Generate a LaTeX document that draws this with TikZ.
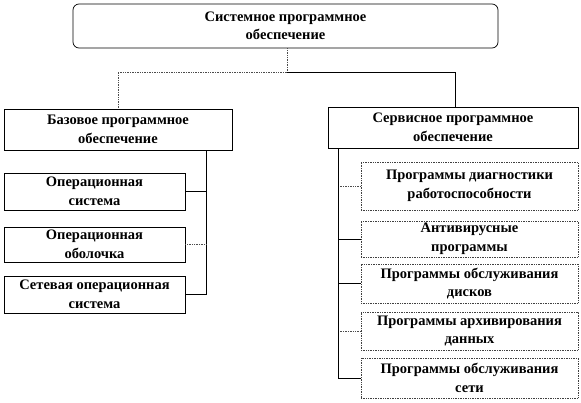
\documentclass[tikz,border=0pt]{standalone}
\usepackage{fontspec}
\setmainfont{Liberation Serif}
\usetikzlibrary{calc}
\begin{document}
\begin{tikzpicture}[x=1pt,y=-1pt,
  box/.style={draw=black, line width=0.7pt, fill=white, align=center, inner sep=1pt,
    font=\fontsize{14.5}{18.5}\selectfont\bfseries},
  dbox/.style={box, draw=black!75, densely dotted},
  link/.style={draw=black, line width=0.7pt},
  dlink/.style={draw=black!70, line width=0.7pt, densely dotted}]
\useasboundingbox (0,0) rectangle (581,402);
% top
\node[box, rounded corners=6pt, minimum width=425pt, minimum height=44pt] (top) at (285.5,26) {Системное программное\\обеспечение};
% level 2
\node[box, minimum width=228pt, minimum height=41pt] (base) at (118,129.5) {Базовое программное\\обеспечение};
\node[box, minimum width=250pt, minimum height=41pt] (serv) at (453,127.5) {Сервисное программное\\обеспечение};
% left children
\node[box, minimum width=181pt, minimum height=37pt] (c1) at (94.5,191.5) {Операционная\\система};
\node[box, minimum width=181pt, minimum height=35pt] (c2) at (94.5,244.5) {Операционная\\оболочка};
\node[box, minimum width=181pt, minimum height=37pt] (c3) at (94.5,294.5) {Сетевая операционная\\система};
% right children
\node[dbox, minimum width=217pt, minimum height=48pt] (d1) at (469.5,186) {Программы диагностики\\работоспособности};
\node[dbox, minimum width=217pt, minimum height=36pt] (d2) at (469.5,239) {Антивирусные\\программы};
\node[dbox, minimum width=217pt, minimum height=39pt] (d3) at (469.5,283.5) {Программы обслуживания\\дисков};
\node[dbox, minimum width=217pt, minimum height=38pt] (d4) at (469.5,331) {Программы архивирования\\данных};
\node[dbox, minimum width=217pt, minimum height=40pt] (d5) at (469.5,378) {Программы обслуживания\\сети};
% top connectors
\coordinate (hub) at ($(top.south)+(1.5,24)$);
\draw[dlink] ($(top.south)+(1.5,0)$) -- (hub);
\draw[dlink] (hub) -| (base.north);
\draw[link] (hub) -| ($(serv.north)+(2,0)$);
% left trunk
\coordinate (lt) at ($(base.south west)+(203,0)$);
\draw[link] (lt) |- (c3.east);
\draw[link] (c1.east) -- (c1.east -| lt);
\draw[dlink] (c2.east) -- (c2.east -| lt);
% right trunk
\coordinate (rt) at ($(serv.south west)+(11,0)$);
\draw[link] (rt) |- (d5.west);
\draw[dlink] (d1.west) -- (d1.west -| rt);
\draw[link] (d2.west) -- (d2.west -| rt);
\draw[link] (d3.west) -- (d3.west -| rt);
\draw[dlink] (d4.west) -- (d4.west -| rt);
\end{tikzpicture}
\end{document}
